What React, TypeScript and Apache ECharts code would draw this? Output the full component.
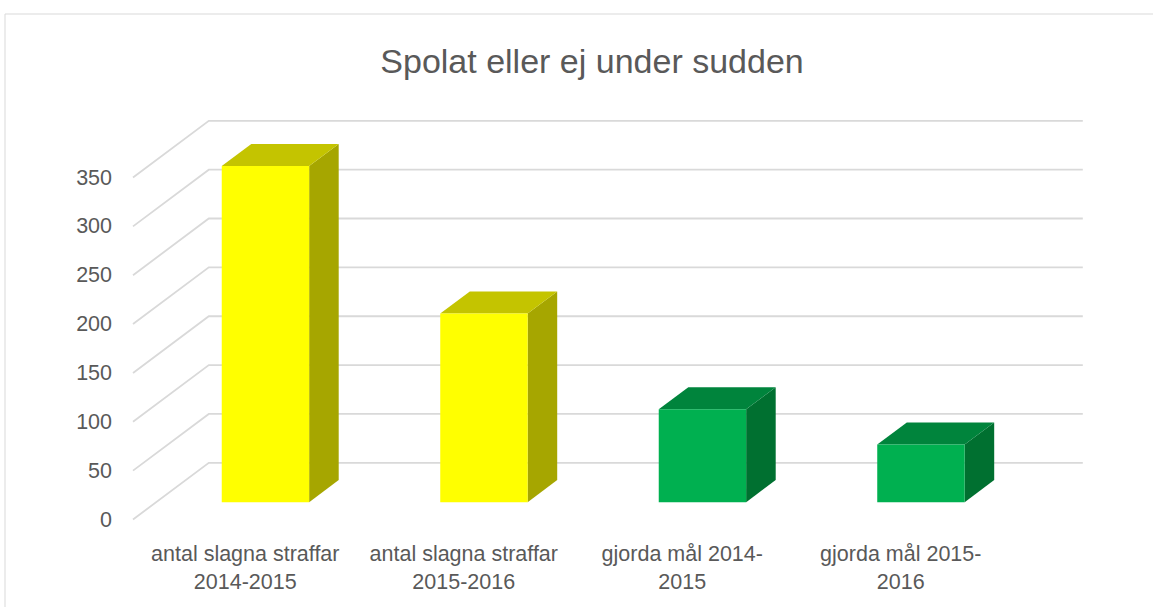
import React, { useEffect, useRef } from "react";
import * as echarts from "echarts";

// ---- data ----
const titleText = "Spolat eller ej under sudden";
const categories = [
  "antal slagna straffar\n2014-2015",
  "antal slagna straffar\n2015-2016",
  "gjorda mål 2014-\n2015",
  "gjorda mål 2015-\n2016",
];
const values = [344, 193, 95, 59];
const yMin = 0;
const yMax = 350;
const yStep = 50;
const yTicks = [0, 50, 100, 150, 200, 250, 300, 350];

// ---- styles ----
const barStyles = [
  { front: "#FFFF00", top: "#C4C400", side: "#A6A600" },
  { front: "#FFFF00", top: "#C4C400", side: "#A6A600" },
  { front: "#00B050", top: "#00843C", side: "#007030" },
  { front: "#00B050", top: "#00843C", side: "#007030" },
];
const TEXT = "#595959";
const GRID_LINE = "#D9D9D9";
const FONT = "'Liberation Sans', Arial, sans-serif";
// oblique depth vector (front plane -> back wall)
const DX = 75.8;
const DY = -56.7;
const F0 = 0.306; // bar front depth fraction
const BD = 0.39; // bar depth fraction
const BAR_RATIO = 0.4;

export default function App() {
  const ref = useRef<HTMLDivElement>(null);
  useEffect(() => {
    if (!ref.current) return;
    const chart = echarts.init(ref.current, null, { renderer: "svg" });
    const option: any = {
      animation: false,
      backgroundColor: "#FFFFFF",
      title: {
        text: titleText,
        left: 587,
        top: 39,
        textAlign: "center",
        textStyle: { fontFamily: FONT, fontSize: 34, fontWeight: "normal", color: TEXT },
      },
      graphic: [
        {
          type: "rect",
          shape: { x: 5, y: 14, width: 1170, height: 620 },
          style: { fill: "none", stroke: GRID_LINE, lineWidth: 1 },
          silent: true,
          z: -10,
        },
      ],
      grid: { left: 133, right: 146, top: 177.5, bottom: 87.5, containLabel: false },
      xAxis: {
        type: "category",
        data: categories,
        axisLine: { show: false },
        axisTick: { show: false },
        splitLine: { show: false },
        axisLabel: {
          interval: 0,
          margin: 20,
          color: TEXT,
          fontFamily: FONT,
          fontSize: 21.5,
          lineHeight: 28,
          padding: [0, 0, 0, 6],
        },
      },
      yAxis: {
        type: "value",
        min: yMin,
        max: yMax,
        interval: yStep,
        axisLine: { show: false },
        axisTick: { show: false },
        splitLine: { show: false },
        axisLabel: { margin: 21, color: TEXT, fontFamily: FONT, fontSize: 21.5 },
      },
      series: [
        {
          type: "custom",
          name: "grid",
          z: 1,
          clip: false,
          silent: true,
          encode: { x: 0, y: 1 },
          data: yTicks.map((v) => [0, v]),
          renderItem: (params: any, api: any) => {
            const v = api.value(1);
            const y = api.coord([0, v])[1];
            const cs = params.coordSys;
            const x0 = cs.x;
            const x1 = cs.x + cs.width;
            return {
              type: "polyline",
              shape: { points: [[x0, y], [x0 + DX, y + DY], [x1 + DX, y + DY]] },
              style: { stroke: GRID_LINE, lineWidth: 1.8, fill: null },
            };
          },
        },
        {
          type: "custom",
          name: "bars",
          z: 2,
          clip: false,
          encode: { x: 0, y: 1 },
          data: values.map((v, i) => [i, v]),
          renderItem: (params: any, api: any) => {
            const idx = api.value(0);
            const v = api.value(1);
            const [cx, yTop] = api.coord([idx, v]);
            const yBase = api.coord([idx, 0])[1];
            const slot = api.size([1, 0])[0];
            const w = slot * BAR_RATIO;
            const xl = cx - w / 2 + F0 * DX;
            const xr = xl + w;
            const yt = yTop + F0 * DY;
            const yb = yBase + F0 * DY;
            const bx = BD * DX;
            const by = BD * DY;
            const c = barStyles[idx];
            return {
              type: "group",
              children: [
                {
                  type: "polygon",
                  shape: { points: [[xr, yt], [xr, yb], [xr + bx, yb + by], [xr + bx, yt + by]] },
                  style: { fill: c.side },
                },
                {
                  type: "polygon",
                  shape: { points: [[xl, yt], [xr, yt], [xr + bx, yt + by], [xl + bx, yt + by]] },
                  style: { fill: c.top },
                },
                {
                  type: "rect",
                  shape: { x: xl, y: yt, width: w, height: yb - yt },
                  style: { fill: c.front },
                },
              ],
            };
          },
        },
      ],
    };
    chart.setOption(option);
    return () => chart.dispose();
  }, []);
  return (
    <div
      ref={ref}
      style={{ position: "absolute", left: 0, top: 0, width: 1153, height: 607 }}
    />
  );
}
